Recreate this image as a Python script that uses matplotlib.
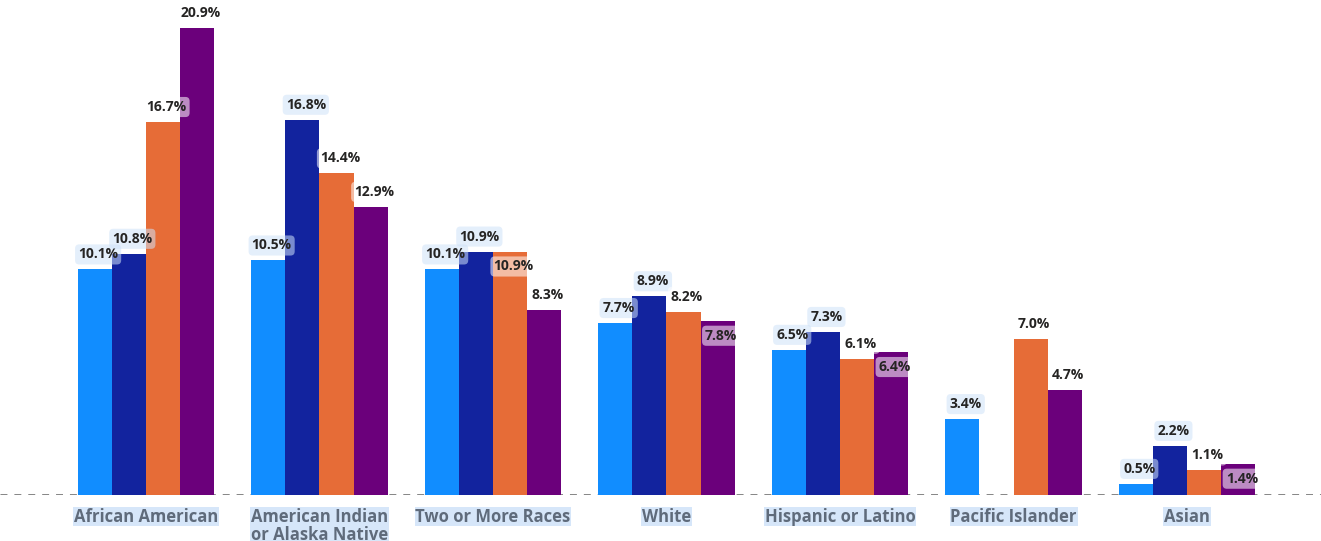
import numpy as np
import matplotlib.pyplot as plt

categories = ['African American', 'American Indian\nor Alaska Native', 'Two or More Races',
              'White', 'Hispanic or Latino', 'Pacific Islander', 'Asian']
series1 = [10.1, 10.5, 10.1, 7.7, 6.5, 3.4, 0.5]
series2 = [10.8, 16.8, 10.9, 8.9, 7.3, np.nan, 2.2]
series3 = [16.7, 14.4, 10.9, 8.2, 6.1, 7.0, 1.1]
series4 = [20.9, 12.9, 8.3, 7.8, 6.4, 4.7, 1.4]

colors = ['#118dff', '#12239e', '#e66c37', '#6b007b']
box_colors = ['#cfe2f8', '#cfe2f8', '#ffffff', '#ffffff']

fig = plt.figure(figsize=(13.21, 5.41), dpi=100)
ax = fig.add_axes([0, 0.085, 1, 0.915])

x = np.arange(len(categories))
w = 0.197
all_series = [series1, series2, series3, series4]
off = 0.67

for k, s in enumerate(all_series):
    ax.bar(x + (k - 1.5) * w, s, width=w, color=colors[k], zorder=2)

# value labels; push a label inside the bar when it would collide with the previous one
for i in range(len(categories)):
    prev_y = None
    for k, s in enumerate(all_series):
        v = s[i]
        if np.isnan(v):
            prev_y = None
            continue
        ly = v + off
        if prev_y is not None and abs(ly - prev_y) < 0.6:
            ly = v - off
        prev_y = ly
        ax.text(x[i] + (k - 1.5) * w + 0.02, ly, f'{v:.1f}%', ha='center', va='center',
                fontsize=10, fontweight='bold', family='Open Sans', color='#252423', zorder=4,
                bbox=dict(boxstyle='round,pad=0.22,rounding_size=0.3', fc=box_colors[k],
                          ec='none', alpha=0.55))

ax.axhline(0, color='#7a7a7a', lw=2, ls=(0, (2.5, 2.5)), zorder=1)

ax.set_xlim(-0.841, 6.772)
ax.set_ylim(0, 22.16)
ax.set_xticks(x)
ax.set_xticklabels(categories, fontsize=12, fontweight='bold', family='Open Sans',
                   color='#5f6b7b', linespacing=1.0)
for t in ax.get_xticklabels():
    t.set_bbox(dict(boxstyle='square,pad=0.05', fc='#d6e6f9', ec='none'))
ax.tick_params(axis='x', length=0, pad=9)
ax.set_yticks([])
for sp in ax.spines.values():
    sp.set_visible(False)

plt.savefig('out.png', dpi=100)
